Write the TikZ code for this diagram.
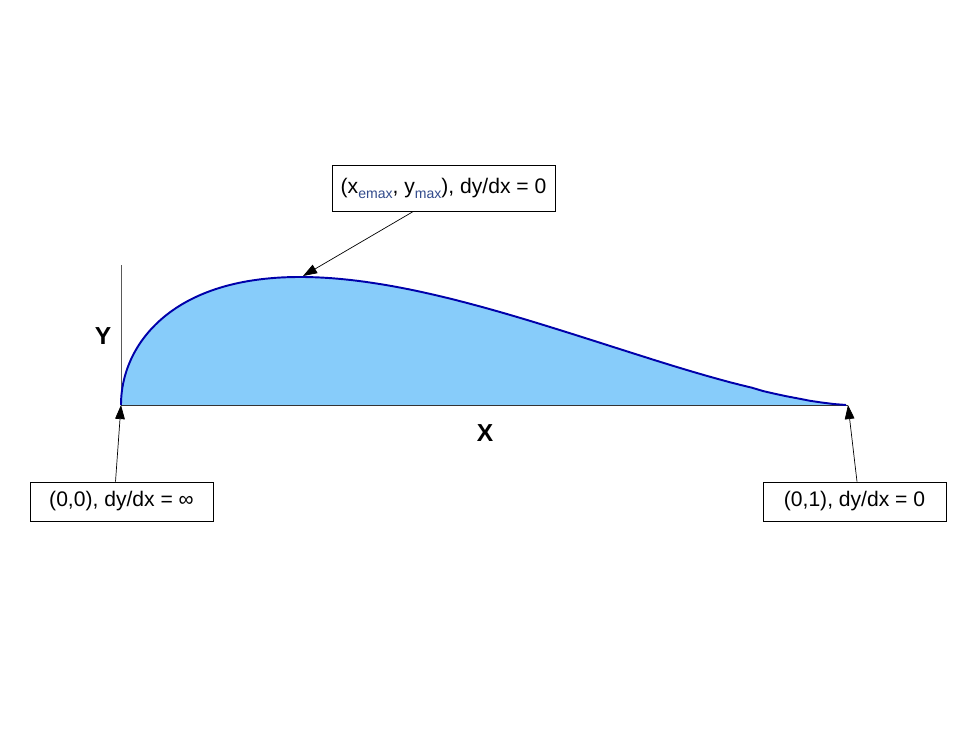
\documentclass[tikz,border=0pt]{standalone}
\usepackage{fontspec}
\setmainfont{Liberation Sans}
\usetikzlibrary{arrows.meta}

\definecolor{wingfill}{RGB}{135,204,250}
\definecolor{wingline}{RGB}{0,0,170}
\definecolor{subblue}{RGB}{50,75,140}

\newcommand{\lowsub}[1]{\raisebox{-0.45ex}{\fontsize{8}{9}\selectfont\color{subblue}#1}}

\begin{document}
\begin{tikzpicture}[
        x=0.02cm, y=-0.02cm,
        >={Triangle[length=8pt,width=5.5pt]},
        every node/.style={font=\fontsize{12}{14}\selectfont},
        callout/.style={draw, thin, fill=white, inner sep=0pt},
        axislabel/.style={font=\fontsize{14}{16}\selectfont\bfseries}
    ]
        \useasboundingbox (0,0) rectangle (970,750);

        \coordinate (lead) at (121,405);
        \coordinate (trail) at (848,405);
        \coordinate (crest) at (303,276);

        % Profil
        \fill[wingfill] plot[domain=0:1, samples=120, variable=\s]
            ({121+727*\s*\s}, {405-397.5*\s*(1-\s*\s)^1.53}) -- cycle;

        % Achsen
        \draw[gray!70!black, thin] (lead) -- (121,265);
        \draw[black!80, thin] (lead) -- (trail);
        \draw[wingline, line width=1.1pt] plot[domain=0:1, samples=120, variable=\s]
            ({121+727*\s*\s}, {405-397.5*\s*(1-\s*\s)^1.53});

        \node[axislabel] (ylab) at (103,336) {Y};
        \node[axislabel] (xlab) at (485,433) {X};

        % Beschriftungen
        \node[callout, minimum width=4.46cm, minimum height=0.92cm] (topbox) at (443.5,188)
            {(x\lowsub{emax}, y\lowsub{max}), dy/dx = 0};
        \node[callout, minimum width=3.66cm, minimum height=0.78cm] (leadbox) at (121.5,501.5)
            {(0,0), dy/dx = ∞};
        \node[callout, minimum width=3.66cm, minimum height=0.78cm] (trailbox) at (854.5,501.5)
            {(0,1), dy/dx = 0};

        \draw[->, thin] ([xshift=-0.6cm]topbox.south) -- (crest);
        \draw[->, thin] ([xshift=-0.12cm]leadbox.north) -- (lead);
        \draw[->, thin] ([xshift=0.05cm]trailbox.north) -- (trail);

\end{tikzpicture}
\end{document}
